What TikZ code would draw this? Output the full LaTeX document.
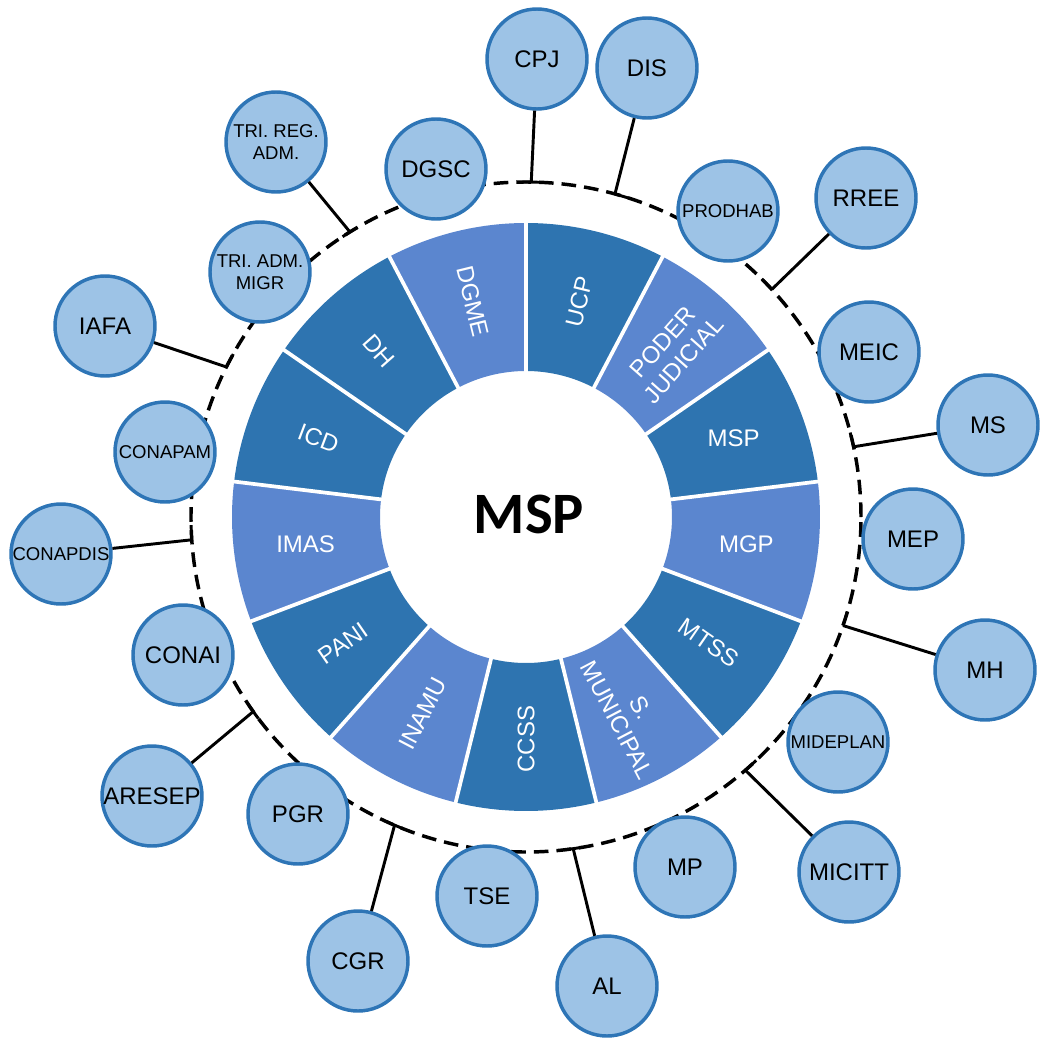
\documentclass[tikz,border=0pt]{standalone}
\usepackage{fontspec}
\setmainfont{Liberation Sans}
\newfontfamily\carlitofont{Carlito}
\definecolor{segdark}{HTML}{2E74B0}
\definecolor{seglight}{HTML}{5B86CF}
\definecolor{cfill}{HTML}{9DC3E6}
\definecolor{cborder}{HTML}{2E75B6}
\begin{document}
\begin{tikzpicture}[x=0.75pt,y=0.75pt,
  org/.style={circle, draw=cborder, fill=cfill, line width=2.6pt, minimum size=75pt,
    inner sep=0pt, align=center, text=black, font=\fontsize{18pt}{20pt}\selectfont},
  orgsmall/.style={org, font=\fontsize{13.9pt}{16.5pt}\selectfont},
  seglabel/.style={text=white, align=center, inner sep=0pt, font=\fontsize{18pt}{20.5pt}\selectfont},
  conn/.style={line width=2.2pt, black},
  dashring/.style={line width=2.6pt, black, dash pattern=on 11pt off 6pt}
]
\useasboundingbox (-526,-523) rectangle (516,517);

% ring segments
\foreach \k/\col/\lab/\rot in {0/segdark/UCP/76.15, 1/seglight/{PODER\\JUDICIAL}/48.46,
  2/segdark/MSP/0, 3/seglight/MGP/0, 4/segdark/MTSS/-34.6, 5/seglight/{S.\\MUNICIPAL}/-62.3,
  6/segdark/CCSS/90, 7/seglight/INAMU/62.3, 8/segdark/PANI/34.6, 9/seglight/IMAS/0,
  10/segdark/ICD/-20.8, 11/segdark/DH/-48.5, 12/seglight/DGME/-76.2}{
  \pgfmathsetmacro\aA{90-27.6923*\k}
  \pgfmathsetmacro\aB{\aA-27.6923}
  \pgfmathsetmacro\aM{\aA-13.84615}
  \fill[\col] (\aA:294) arc[start angle=\aA, end angle=\aB, radius=294]
     -- (\aB:146) arc[start angle=\aB, end angle=\aA, radius=146] -- cycle;
  \node[seglabel, rotate=\rot] (seg\k) at (\aM:222) {\lab};
}
\foreach \k in {0,...,12}{
  \draw[white, line width=2.8pt] ({90-27.6923*\k}:140) -- ({90-27.6923*\k}:300);
}

\node[font=\carlitofont\bfseries\fontsize{44pt}{44pt}\selectfont, inner sep=0pt] (centre) at (3,3) {MSP};

% dashed ring
\draw[dashring] (0,0) circle[radius=335];

% join points on the dashed ring
\coordinate (jCPJ) at (89.1:335);
\coordinate (jDIS) at (74.6:335);
\coordinate (jRREE) at (42.8:335);
\coordinate (jMS) at (12.1:335);
\coordinate (jMH) at (-18.9:335);
\coordinate (jMICITT) at (-49.1:335);
\coordinate (jAL) at (-81.9:335);
\coordinate (jCGR) at (-113.1:335);
\coordinate (jARESEP) at (215.5:335);
\coordinate (jCONAPDIS) at (183.9:335);
\coordinate (jIAFA) at (153.4:335);
\coordinate (jTRIREG) at (121.7:335);

% nodes
\node[org] (cpj) at (11,458) {CPJ};
\node[org] (dis) at (121,449) {DIS};
\node[org] (dgsc) at (-90,348) {DGSC};
\node[orgsmall] (trireg) at (-250,375) {TRI. REG.\\ADM.};
\node[orgsmall] (triadm) at (-266,245) {TRI. ADM.\\MIGR};
\node[org] (iafa) at (-421,191) {IAFA};
\node[orgsmall] (conapam) at (-361,65) {CONAPAM};
\node[orgsmall] (conapdis) at (-465,-37) {CONAPDIS};
\node[org] (conai) at (-343,-138) {CONAI};
\node[org] (aresep) at (-374,-279) {ARESEP};
\node[org] (pgr) at (-228,-297) {PGR};
\node[org] (cgr) at (-168,-444) {CGR};
\node[org] (tse) at (-39,-379) {TSE};
\node[org] (al) at (81,-469) {AL};
\node[org] (mp) at (159,-350) {MP};
\node[org] (micitt) at (323,-355) {MICITT};
\node[orgsmall] (mideplan) at (312,-225) {MIDEPLAN};
\node[org] (mh) at (459,-153) {MH};
\node[org] (mep) at (387,-22) {MEP};
\node[org] (ms) at (462,92) {MS};
\node[org] (meic) at (343,165) {MEIC};
\node[org] (rree) at (340,319) {RREE};
\node[orgsmall] (prodhab) at (202,306) {PRODHAB};

% connectors
\draw[conn] (cpj) -- (jCPJ);
\draw[conn] (87.6:335) arc[start angle=87.6, end angle=90.6, radius=335];
\draw[conn] (dis) -- (jDIS);
\draw[conn] (jDIS) arc[start angle=74.6, end angle=72.1, radius=335];
\draw[conn] (rree) -- (jRREE);
\draw[conn] (jRREE) arc[start angle=42.8, end angle=45.3, radius=335];
\draw[conn] (ms) -- (jMS);
\draw[conn] (jMS) arc[start angle=12.1, end angle=14.6, radius=335];
\draw[conn] (mh) -- (jMH);
\draw[conn] (jMH) arc[start angle=-18.9, end angle=-16.4, radius=335];
\draw[conn] (micitt) -- (jMICITT);
\draw[conn] (jMICITT) arc[start angle=-49.1, end angle=-46.6, radius=335];
\draw[conn] (al) -- (jAL);
\draw[conn] (-83.4:335) arc[start angle=-83.4, end angle=-80.4, radius=335];
\draw[conn] (cgr) -- (jCGR);
\draw[conn] (-114.6:335) arc[start angle=-114.6, end angle=-111.6, radius=335];
\draw[conn] (aresep) -- (jARESEP);
\draw[conn] (214:335) arc[start angle=214, end angle=217, radius=335];
\draw[conn] (conapdis) -- (jCONAPDIS);
\draw[conn] (jCONAPDIS) arc[start angle=183.9, end angle=181.4, radius=335];
\draw[conn] (iafa) -- (jIAFA);
\draw[conn] (jIAFA) arc[start angle=153.4, end angle=150.9, radius=335];
\draw[conn] (trireg) -- (jTRIREG);
\draw[conn] (120.2:335) arc[start angle=120.2, end angle=123.2, radius=335];
\end{tikzpicture}
\end{document}
